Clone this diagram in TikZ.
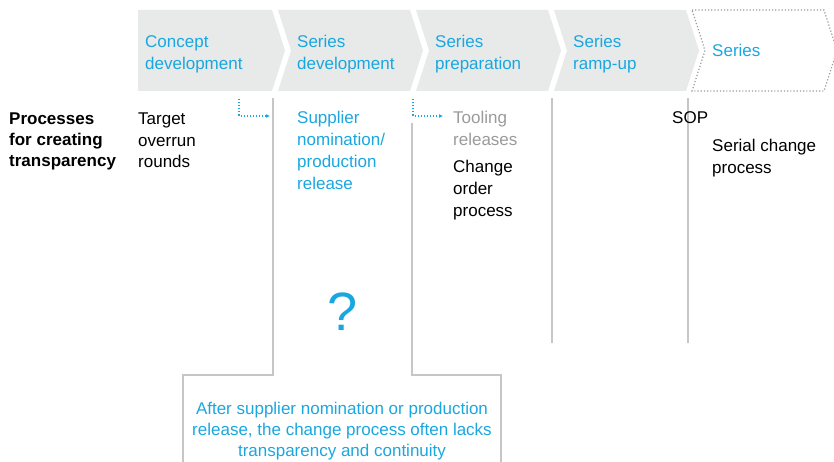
\documentclass[tikz,border=0pt]{standalone}
\usepackage{fontspec}
\setmainfont{Liberation Sans}
\usetikzlibrary{arrows.meta}
\definecolor{phblue}{HTML}{1AA7E0}
\definecolor{phgray}{HTML}{E8E9E9}
\definecolor{rulegray}{HTML}{C6C6C6}
\definecolor{txtgray}{HTML}{9A9A9A}
\begin{document}
\begin{tikzpicture}[x=1pt,y=-1pt,
  lbl/.style={inner sep=0pt, anchor=base west, align=left, font=\fontsize{17}{21.5}\selectfont},
  phase/.style={lbl, text=phblue},
  chev/.style={fill=phgray},
  rule/.style={draw=rulegray, line width=1.4pt},
  hint/.style={draw=phblue, dotted, line width=1.1pt, -{Latex[length=4pt,width=4pt]}}]
\useasboundingbox (0,0) rectangle (834,462);
\fill[chev] (138,10) -- (272,10) -- (285,50.5) -- (272,91) -- (138,91) -- cycle;
\fill[chev] (278,10) -- (410,10) -- (423,50.5) -- (410,91) -- (278,91) -- (291,50.5) -- cycle;
\fill[chev] (416,10) -- (548,10) -- (561,50.5) -- (548,91) -- (416,91) -- (429,50.5) -- cycle;
\fill[chev] (554,10) -- (686,10) -- (699,50.5) -- (686,91) -- (554,91) -- (567,50.5) -- cycle;
\draw[draw=txtgray, dotted, line width=1.2pt] (692,10) -- (824,10) -- (837,50.5) -- (824,91) -- (692,91) -- (705,50.5) -- cycle;
\node[phase] (concept) at (145,69.5) {Concept\\development};
\node[phase] (sdev) at (297,69.5) {Series\\development};
\node[phase] (sprep) at (435,69.5) {Series\\preparation};
\node[phase] (sramp) at (573,69.5) {Series\\ramp-up};
\node[phase] (series) at (712,57) {Series};
\coordinate (g1) at (273,98);
\coordinate (g1b) at (183,375);
\coordinate (g2) at (412,123);
\coordinate (g2b) at (501,375);
\coordinate (g3) at (552,98);
\coordinate (g4) at (688,98);
\draw[rule] (g1) -- (g1 |- g1b) -- (g1b) -- ++(0,100);
\draw[rule] (g2) -- (g2 |- g2b) -- (g2b) -- ++(0,100);
\draw[rule] (g3) -- (552,343);
\draw[rule] (g4) -- (688,343);
\node[lbl, font=\fontsize{17}{21}\selectfont\bfseries] (procs) at (9,167) {Processes\\for creating\\transparency};
\node[lbl] (target) at (138,168) {Target\\overrun\\rounds};
\node[phase, font=\fontsize{17}{22}\selectfont] (supplier) at (297,190) {Supplier\\nomination/\\production\\release};
\node[lbl, font=\fontsize{17}{22}\selectfont, text=txtgray] (tooling) at (453,146) {Tooling\\releases};
\node[lbl, font=\fontsize{17}{22}\selectfont] (change) at (453,216.5) {Change\\order\\process};
\node[lbl] (sop) at (672,124) {SOP};
\node[lbl, font=\fontsize{17}{22}\selectfont] (serial) at (712,173.5) {Serial change\\process};
\node[text=phblue, inner sep=0pt, font=\fontsize{54}{54}\selectfont] (question) at (343,312) {?};
\node[phase, anchor=base, align=center, font=\fontsize{17}{21}\selectfont] (note) at (342,456) {After supplier nomination or production\\release, the change process often lacks\\transparency and continuity};
\coordinate (a1) at (239,99);
\coordinate (a1e) at (270,116);
\coordinate (a2) at (413,99);
\coordinate (a2e) at (443,116);
\draw[hint] (a1) |- (a1e);
\draw[hint] (a2) |- (a2e);
\end{tikzpicture}
\end{document}
